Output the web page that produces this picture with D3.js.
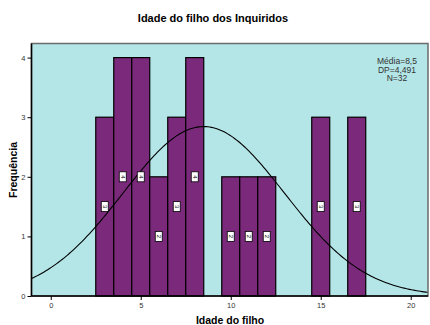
<!DOCTYPE html>
<html><head><meta charset="utf-8">
<script src="https://cdn.jsdelivr.net/npm/d3@7"></script>
<style>body{margin:0;background:#fff}svg{display:block}</style>
</head><body>
<script>
const binCenters = [3, 4, 5, 6, 7, 8, 10, 11, 12, 15, 17];
const frequencies = [3, 4, 4, 2, 3, 4, 2, 2, 2, 3, 3];
const xTicks = [0, 5, 10, 15, 20];
const yTicks = [0, 1, 2, 3, 4];
const stats = { mean: 8.5, sd: 4.491, n: 32 };
const legendLines = ["Média=8,5", "DP=4,491", "N=32"];

(function(){
const W = 430, H = 325;
const svg = d3.select("body").append("svg").attr("width", W).attr("height", H);
const pL = 31.5, pR = 428, pT = 43.5, pB = 296;
const x = d3.scaleLinear().domain([-1.07, 20.96]).range([pL, pR]);
const y = d3.scaleLinear().domain([0, 4]).range([pB, 57.6]);
const FF = "Liberation Sans, Arial, sans-serif";

svg.append("rect").attr("x", pL).attr("y", pT).attr("width", pR-pL).attr("height", pB-pT)
  .attr("fill", "#b4e6e8").attr("stroke", "#6b6b6b").attr("stroke-width", 1.5);

const g = svg.append("g");
g.selectAll("rect.bar").data(binCenters).join("rect").attr("class","bar")
  .attr("x", d => x(d-0.5)).attr("width", d => x(d+0.5)-x(d-0.5))
  .attr("y", (d,i) => y(frequencies[i])).attr("height", (d,i) => y(0)-y(frequencies[i]))
  .attr("fill", "#7b2a7b").attr("stroke", "#000").attr("stroke-width", 1.2);

const pts = d3.range(-1.07, 20.97, 0.1).map(v => [v,
  stats.n / (stats.sd*Math.sqrt(2*Math.PI)) * Math.exp(-0.5*((v-stats.mean)/stats.sd)**2)]);
g.append("path").datum(pts)
  .attr("d", d3.line().x(d => x(d[0])).y(d => y(d[1])))
  .attr("fill","none").attr("stroke","#000").attr("stroke-width",1.1);

const lab = g.selectAll("g.lab").data(binCenters).join("g").attr("class","lab")
  .attr("transform", (d,i) => `translate(${x(d)},${y(frequencies[i]/2)})`);
lab.append("rect").attr("x",-3.5).attr("y",-5).attr("width",7).attr("height",10)
  .attr("fill","#fff").attr("stroke","#000").attr("stroke-width",0.8);
lab.append("text").text((d,i)=>frequencies[i]).attr("transform","rotate(90)")
  .attr("text-anchor","middle").attr("dy","0.35em")
  .attr("font-family",FF).attr("font-size",6).attr("fill","#000");

const xAxis = svg.append("g").attr("transform",`translate(0,${pB})`)
  .call(d3.axisBottom(x).tickValues(xTicks).tickFormat(d3.format("d")).tickSize(4).tickPadding(3));
xAxis.select(".domain").attr("stroke","#000").attr("stroke-width",1.5).attr("d",`M${pL},0H${pR}`);
const yAxis = svg.append("g").attr("transform",`translate(${pL},0)`)
  .call(d3.axisLeft(y).tickValues(yTicks).tickFormat(d3.format("d")).tickSize(4).tickPadding(2));
yAxis.select(".domain").attr("stroke","#000").attr("stroke-width",1.5).attr("d",`M0,${pT}V${pB}`);
svg.selectAll(".tick text").attr("font-family",FF).attr("font-size",7.5).attr("fill","#333");

svg.append("text").text("Idade do filho dos Inquiridos").attr("x",213).attr("y",22)
  .attr("text-anchor","middle").attr("font-family",FF)
  .attr("font-weight","bold").attr("font-size",11);
svg.append("text").text("Idade do filho").attr("x",230).attr("y",324)
  .attr("text-anchor","middle").attr("font-family",FF)
  .attr("font-weight","bold").attr("font-size",10.5);
svg.append("text").text("Frequência").attr("transform","translate(17,170) rotate(-90)")
  .attr("text-anchor","middle").attr("font-family",FF)
  .attr("font-weight","bold").attr("font-size",10.5);

svg.append("g").selectAll("text").data(legendLines).join("text")
  .text(d=>d).attr("x",397).attr("y",(d,i)=>64+i*8.5).attr("text-anchor","middle")
  .attr("font-family",FF).attr("font-size",8.5).attr("fill","#333");
})();
</script>
</body></html>
